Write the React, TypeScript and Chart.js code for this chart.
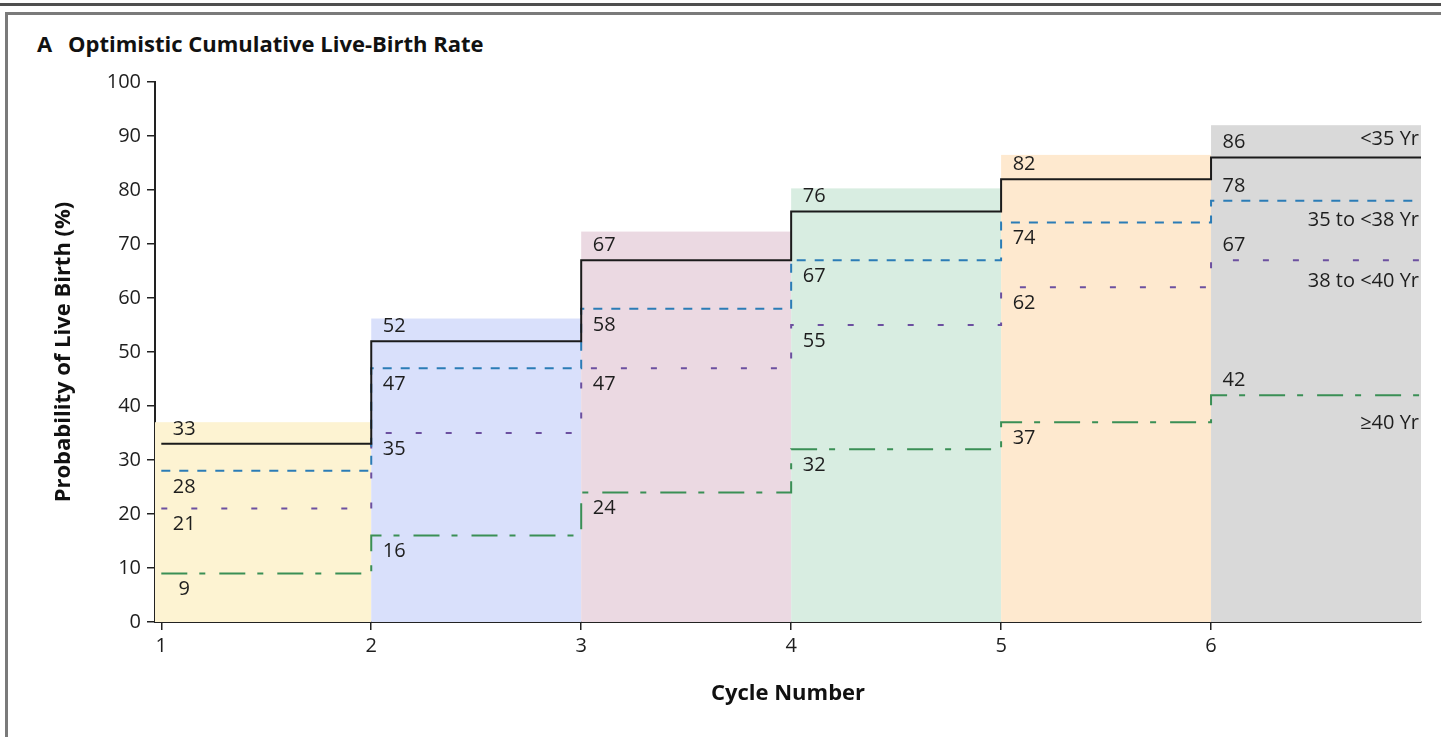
import React, { useEffect, useRef } from "react";
import { Chart, registerables } from "chart.js";

Chart.register(...registerables);

// ---------- data ----------
const cycles = [1, 2, 3, 4, 5, 6];
const xEnd = 7;
const xTickLabels = ["1", "2", "3", "4", "5", "6"];
const seriesNames = ["<35 Yr", "35 to <38 Yr", "38 to <40 Yr", "≥40 Yr"];
const under35 = [33, 52, 67, 76, 82, 86];
const age35to38 = [28, 47, 58, 67, 74, 78];
const age38to40 = [21, 35, 47, 55, 62, 67];
const age40plus = [9, 16, 24, 32, 37, 42];
const bandTops = [37, 56.2, 72.3, 80.3, 86.5, 92];
const seriesValues = [under35, age35to38, age38to40, age40plus];

// ---------- styles ----------
const FONT = '"Open Sans", "Noto Sans", sans-serif';
const seriesColors = ["#1b1b1b", "#2b7cb6", "#6c50a0", "#3a8f55"];
const seriesDash = [[], [9, 9], [6, 24], [26, 12, 6, 14]];
const bandColors = ["#fdf3d2", "#d9e0fb", "#ebd9e2", "#d8ede1", "#fee9cf", "#d9d9d9"];
const legendOffsets = [-18, 19, 21, 28];

const bandsPlugin = {
  id: "bands",
  beforeDatasetsDraw(chart: any) {
    const { ctx, chartArea, scales } = chart;
    const x = scales.x;
    const y = scales.y;
    ctx.save();
    bandTops.forEach((top, j) => {
      const left = j === 0 ? chartArea.left : x.getPixelForValue(cycles[j]);
      const right = Math.min(x.getPixelForValue(cycles[j] + 1), chartArea.right);
      const t = y.getPixelForValue(top);
      const b = y.getPixelForValue(0);
      ctx.fillStyle = bandColors[j];
      ctx.fillRect(left, t, right - left, b - t);
    });
    ctx.restore();
  },
};

const labelsPlugin = {
  id: "valueLabels",
  afterDatasetsDraw(chart: any) {
    const { ctx, chartArea, scales } = chart;
    const x = scales.x;
    const y = scales.y;
    ctx.save();
    ctx.font = `20px ${FONT}`;
    ctx.fillStyle = "#1e1e1e";
    ctx.textBaseline = "middle";
    ctx.textAlign = "center";
    seriesValues.forEach((vals, i) => {
      vals.forEach((v, j) => {
        const above = i === 0 || j === vals.length - 1;
        const px = x.getPixelForValue(cycles[j]) + 23;
        const py = y.getPixelForValue(v) + (above ? -15 : 16);
        ctx.fillText(String(v), px, py);
      });
    });
    ctx.textAlign = "right";
    seriesNames.forEach((name, i) => {
      const vals = seriesValues[i];
      const py = y.getPixelForValue(vals[vals.length - 1]) + legendOffsets[i];
      ctx.fillText(name, chartArea.right - 2, py);
    });
    ctx.restore();
  },
};

function ChartCanvas() {
  const ref = useRef<HTMLCanvasElement | null>(null);
  useEffect(() => {
    if (!ref.current) return;
    const chart = new Chart(ref.current, {
      type: "line",
      data: {
        datasets: seriesValues.map((vals, i) => ({
          label: seriesNames[i],
          data: [
            ...cycles.map((c, j) => ({ x: c, y: vals[j] })),
            { x: xEnd, y: vals[vals.length - 1] },
          ],
          borderColor: seriesColors[i],
          borderWidth: 2,
          borderDash: seriesDash[i],
          stepped: "before",
          pointRadius: 0,
          fill: false,
        })) as any,
      },
      options: {
        responsive: false,
        animation: false,
        layout: { padding: { left: 40, top: 82, right: 20, bottom: 20 } },
        plugins: { legend: { display: false }, tooltip: { enabled: false } },
        scales: {
          x: {
            type: "linear",
            min: 0.97,
            max: xEnd,
            afterBuildTicks: (s: any) => {
              s.ticks = cycles.map((v) => ({ value: v }));
            },
            afterFit: (s: any) => {
              s.height = 95;
            },
            ticks: {
              callback: (_v: any, idx: number) => xTickLabels[idx] ?? "",
              font: { family: FONT, size: 20 },
              color: "#1e1e1e",
              padding: 4,
              autoSkip: false,
              maxRotation: 0,
            },
            grid: { drawOnChartArea: false, tickLength: 8, color: "#222", lineWidth: 1.5 },
            border: { color: "#222", width: 2 },
            title: {
              display: true,
              text: "Cycle Number",
              font: { family: FONT, size: 22, weight: "bold" },
              color: "#111",
              padding: { top: 0, bottom: 10 },
            },
          },
          y: {
            min: 0,
            max: 100,
            afterFit: (s: any) => {
              s.width = 115;
            },
            ticks: {
              stepSize: 10,
              font: { family: FONT, size: 20 },
              color: "#1e1e1e",
              padding: 6,
            },
            grid: { drawOnChartArea: false, tickLength: 8, color: "#222", lineWidth: 1.5 },
            border: { color: "#222", width: 2 },
            title: {
              display: true,
              text: "Probability of Live Birth (%)",
              font: { family: FONT, size: 22, weight: "bold" },
              color: "#111",
              padding: { top: 11, bottom: 0 },
            },
          },
        },
      },
      plugins: [bandsPlugin, labelsPlugin],
    });
    return () => chart.destroy();
  }, []);
  return (
    <canvas
      ref={ref}
      width={1441}
      height={737}
      style={{ position: "absolute", left: 0, top: 0, width: 1441, height: 737 }}
    />
  );
}

export default function App() {
  return (
    <div
      style={{
        position: "fixed",
        left: 0,
        top: 0,
        width: 1441,
        height: 737,
        overflow: "hidden",
        background: "#fff",
      }}
    >
      <div style={{ position: "absolute", left: 0, top: 3, width: 1441, height: 3, background: "#4f4f4f" }} />
      <div
        style={{
          position: "absolute",
          left: 5,
          top: 12,
          width: 1600,
          height: 900,
          border: "3px solid #7a7a7a",
          background: "#fff",
        }}
      />
      <div
        style={{
          position: "absolute",
          left: 37,
          top: 32,
          fontFamily: FONT,
          fontWeight: "bold",
          fontSize: 22,
          lineHeight: "22px",
          color: "#111",
          whiteSpace: "nowrap",
        }}
      >
        A
      </div>
      <div
        style={{
          position: "absolute",
          left: 68,
          top: 32,
          fontFamily: FONT,
          fontWeight: "bold",
          fontSize: 22,
          lineHeight: "22px",
          color: "#111",
          whiteSpace: "nowrap",
        }}
      >
        Optimistic Cumulative Live-Birth Rate
      </div>
      <ChartCanvas />
    </div>
  );
}
